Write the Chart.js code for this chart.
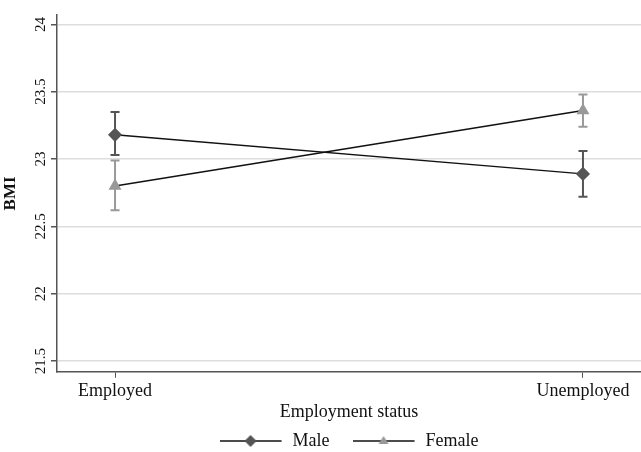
<!DOCTYPE html>
<html>
<head>
<meta charset="utf-8">
<script src="https://cdn.jsdelivr.net/npm/chart.js@4"></script>
<style>
  html, body { margin: 0; padding: 0; background: #fff; }
  #wrap { width: 641px; height: 452px; }
</style>
</head>
<body>
<div id="wrap"><canvas id="chart"></canvas></div>
<script>
// --- DATA ---
const categories = ['Employed', 'Unemployed'];
const maleMean = [23.18, 22.89];
const maleLow = [23.03, 22.72];
const maleHigh = [23.35, 23.06];
const femaleMean = [22.80, 23.36];
const femaleLow = [22.62, 23.24];
const femaleHigh = [22.99, 23.48];
const yTicks = [21.5, 22, 22.5, 23, 23.5, 24];

const MALE_COLOR = '#555555';
const FEMALE_COLOR = '#999999';
const FONT = "'Liberation Serif', 'DejaVu Serif', serif";

// legend symbol: line with marker in the middle (2px blank on the right = gap before text)
function legendSymbol(color, shape) {
    const c = document.createElement('canvas');
    c.width = 64; c.height = 16;
    const g = c.getContext('2d');
    g.strokeStyle = '#111'; g.lineWidth = 1.5;
    g.beginPath(); g.moveTo(0, 8); g.lineTo(62, 8); g.stroke();
    g.fillStyle = color;
    g.beginPath();
    if (shape === 'diamond') {
        g.moveTo(31, 2); g.lineTo(37, 8); g.lineTo(31, 14); g.lineTo(25, 8);
    } else {
        g.moveTo(31, 3); g.lineTo(36, 11); g.lineTo(26, 11);
    }
    g.closePath(); g.fill();
    return c;
}

const errorBars = {
    id: 'errorBars',
    beforeDatasetsDraw(chart) {
        const ctx = chart.ctx;
        const x = chart.scales.x, y = chart.scales.y;
        chart.data.datasets.forEach(ds => {
            ctx.save();
            ctx.strokeStyle = ds.pointBackgroundColor;
            ctx.lineWidth = 2;
            ds.data.forEach((pt, i) => {
                const px = x.getPixelForValue(pt.x);
                const top = y.getPixelForValue(ds.high[i]);
                const bot = y.getPixelForValue(ds.low[i]);
                ctx.beginPath();
                ctx.moveTo(px, top); ctx.lineTo(px, bot);
                ctx.moveTo(px - 4.5, top); ctx.lineTo(px + 4.5, top);
                ctx.moveTo(px - 4.5, bot); ctx.lineTo(px + 4.5, bot);
                ctx.stroke();
            });
            ctx.restore();
        });
    }
};

new Chart(document.getElementById('chart'), {
    type: 'line',
    data: {
        datasets: [
            {
                label: 'Male',
                data: maleMean.map((v, i) => ({ x: i, y: v })),
                low: maleLow, high: maleHigh,
                borderColor: '#111', borderWidth: 1.5,
                pointStyle: 'rectRot', pointRadius: 6,
                pointBackgroundColor: MALE_COLOR, pointBorderColor: MALE_COLOR
            },
            {
                label: 'Female',
                data: femaleMean.map((v, i) => ({ x: i, y: v })),
                low: femaleLow, high: femaleHigh,
                borderColor: '#111', borderWidth: 1.5,
                pointStyle: 'triangle', pointRadius: 6,
                pointBackgroundColor: FEMALE_COLOR, pointBorderColor: FEMALE_COLOR
            }
        ]
    },
    options: {
        responsive: true,
        maintainAspectRatio: false,
        animation: false,
        layout: { autoPadding: false, padding: { top: 15, right: 0, bottom: -8 } },
        plugins: {
            tooltip: { enabled: false },
            legend: {
                position: 'bottom',
                fullSize: false,
                labels: {
                    usePointStyle: true,
                    pointStyleWidth: 64,
                    boxHeight: 16,
                    padding: 5,
                    color: '#111',
                    font: { family: FONT, size: 18 },
                    generateLabels: () => [
                        { text: 'Male\u2002\u2002', pointStyle: legendSymbol(MALE_COLOR, 'diamond'), fontColor: '#111', lineWidth: 0 },
                        { text: 'Female', pointStyle: legendSymbol(FEMALE_COLOR, 'triangle'), fontColor: '#111', lineWidth: 0 }
                    ]
                }
            }
        },
        scales: {
            x: {
                type: 'linear',
                min: -0.124, max: 1.124,
                afterBuildTicks: s => { s.ticks = categories.map((c, i) => ({ value: i })); },
                afterFit: s => { s.paddingLeft = 0; s.paddingRight = 0; },
                ticks: {
                    callback: v => categories[v],
                    color: '#111',
                    font: { family: FONT, size: 18 },
                    padding: 3,
                    maxRotation: 0
                },
                grid: { drawOnChartArea: false, tickLength: 6, tickColor: '#555' },
                border: { color: '#555', width: 1.5 },
                title: {
                    display: true, text: 'Employment status', color: '#111',
                    font: { family: FONT, size: 18 }, padding: { top: -4, bottom: 4 }
                }
            },
            y: {
                min: 21.42, max: 24.07,
                afterBuildTicks: s => { s.ticks = yTicks.map(v => ({ value: v })); },
                afterFit: s => { s.width = 57; },
                ticks: {
                    minRotation: 90, maxRotation: 90,
                    crossAlign: 'center',
                    callback: v => String(v),
                    color: '#111',
                    font: { family: FONT, size: 15 },
                    padding: -3
                },
                grid: { color: '#dddddd', lineWidth: 1.5, tickLength: 6, tickColor: '#555' },
                border: { color: '#555', width: 1.5 },
                title: {
                    display: true, text: 'BMI', color: '#111',
                    font: { family: FONT, size: 17, weight: 'bold' }, padding: 0
                }
            }
        }
    },
    plugins: [errorBars]
});
</script>
</body>
</html>
